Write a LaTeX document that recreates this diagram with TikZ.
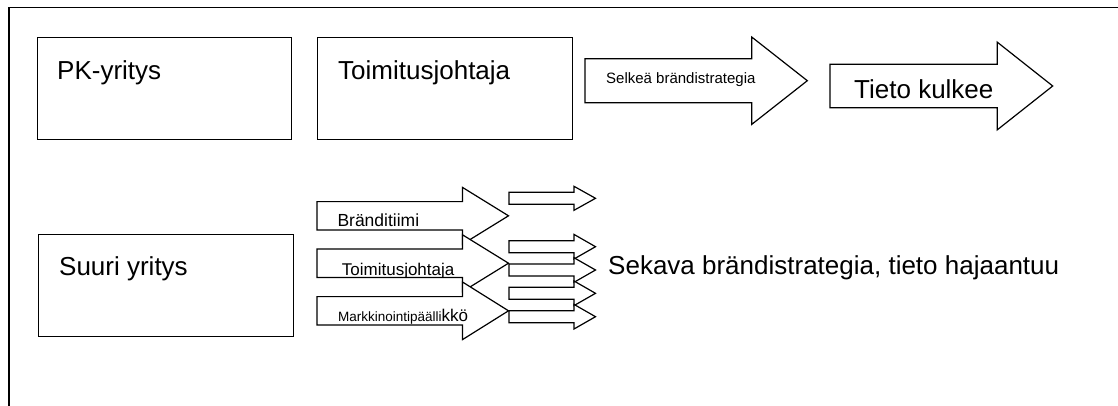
\documentclass[tikz,border=0pt]{standalone}
\usepackage{fontspec}
\setmainfont{Liberation Sans}
\tikzset{
  box/.style={draw, line width=1.2pt, inner sep=0pt, anchor=north west},
  arr/.style={draw, fill=white, line width=1.2pt, line join=miter},
  lbl/.style={anchor=base west, inner sep=0pt, font=\fontsize{26}{30}\selectfont},
  small/.style={anchor=base west, inner sep=0pt},
}
% #1 body left, #2 head start, #3 tip x, #4 centre y, #5 body half height, #6 head half height
\newcommand\fatarrow[6]{%
  \draw[arr] (#1,#4-#5) -- (#2,#4-#5) -- (#2,#4-#6) -- (#3,#4) -- (#2,#4+#6) -- (#2,#4+#5) -- (#1,#4+#5) -- cycle;}
\begin{document}
\begin{tikzpicture}[x=1pt,y=-1pt]
\useasboundingbox (0,0) rectangle (1118,405);
% outer frame
\coordinate (fb) at (9,406);
\coordinate (fc) at (9,7.3);
\coordinate (fr) at (1119,7.3);
\draw[line width=1.5pt] (fb) -- (fc) -- (fr);

% top row
\node[box, minimum width=254pt, minimum height=102pt] (pk) at (37,37) {};
\node[lbl] (pkt) at (57,79) {PK-yritys};
\node[box, minimum width=255pt, minimum height=102pt] (tj) at (317,37) {};
\node[lbl] (tjt) at (338,79) {Toimitusjohtaja};

\fatarrow{585}{751.7}{807.3}{80.7}{22}{43.7}
\node[small, font=\fontsize{15}{18}\selectfont] (sel) at (606,83) {Selkeä brändistrategia};

\fatarrow{830}{997.3}{1052.7}{86}{21.8}{43.8}
\node[lbl] (tk) at (854,98) {Tieto kulkee};

% bottom row
\node[box, minimum width=254.5pt, minimum height=102pt] (su) at (38,234) {};
\node[lbl] (sut) at (59,275) {Suuri yritys};

\fatarrow{317}{462.5}{508.5}{215.8}{14.2}{28.4}
\begin{scope}
\clip (317,201.6) rectangle (508,229.9);
\node[small, font=\fontsize{17.5}{20}\selectfont] (bt) at (337.3,226.7) {Bränditiimi};
\end{scope}

\fatarrow{317}{462.5}{508.5}{263.2}{14.2}{28.4}
\begin{scope}
\clip (317,249) rectangle (508,277.3);
\node[small, font=\fontsize{17}{20}\selectfont] (tj2) at (341.7,275) {Toimitusjohtaja};
\end{scope}

\fatarrow{317}{462.5}{508.5}{310.8}{14.2}{28.8}
\begin{scope}
\clip (317,296.6) rectangle (508,324.9);
\node[small] (mk) at (338,321.7) {\fontsize{13.5}{16}\selectfont Markkinointipäälli\fontsize{17}{20}\selectfont kkö};
\end{scope}

% small arrows
\fatarrow{509}{574}{595.5}{198.3}{6}{12}
\fatarrow{509}{574}{595.5}{246.7}{6}{12.3}
\fatarrow{509}{574}{595.5}{270}{6}{12.3}
\fatarrow{509}{574}{595.5}{293.3}{6}{12.3}
\fatarrow{509}{574}{595.5}{316.7}{6}{12.3}

\node[lbl] (sek) at (608,274) {Sekava brändistrategia, tieto hajaantuu};
\end{tikzpicture}
\end{document}
